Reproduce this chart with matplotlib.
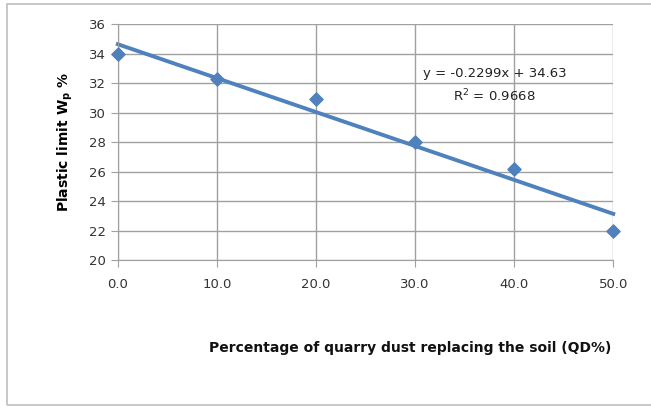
import matplotlib
matplotlib.use("Agg")
import matplotlib.pyplot as plt
import numpy as np

# values
qd_pct = [0, 10, 20, 30, 40, 50]
plastic_limit = [34.0, 32.3, 30.9, 28.0, 26.2, 22.0]
slope = -0.2299
intercept = 34.63
r2 = 0.9668

blue = "#4f81bd"
grid = "#a0a0a0"

fig = plt.figure(figsize=(6.51, 4.07), dpi=100)
ax = fig.add_axes([0.181, 0.361, 0.761, 0.580])

# outer chart frame
fig.patches.append(plt.Rectangle((0.011, 0.005), 1.2, 0.985, transform=fig.transFigure,
                                 fill=False, edgecolor="#bfbfbf", lw=1.2))

xs = np.array([0, 50])
ax.plot(xs, slope * xs + intercept, color=blue, lw=2.8, zorder=2, clip_on=False)
ax.scatter(qd_pct, plastic_limit, marker="D", s=45, color=blue, zorder=3, clip_on=False)

ax.set_xlim(0, 50)
ax.set_ylim(20, 36)
ax.set_xticks(qd_pct)
ax.set_xticklabels(["{:.1f}".format(v) for v in qd_pct])
ax.set_yticks(range(20, 37, 2))
ax.grid(True, color=grid, lw=1)
ax.set_axisbelow(True)
for s in ["top", "right"]:
    ax.spines[s].set_visible(False)
for s in ["left", "bottom"]:
    ax.spines[s].set_color(grid)
ax.tick_params(colors=grid, labelcolor="#333333", labelsize=9.5, length=5, direction="out")
ax.tick_params(axis="x", pad=8)

ax.text(0.76, 0.79, "y = -0.2299x + 34.63", transform=ax.transAxes, ha="center",
        va="center", fontsize=9.5, color="#222222")
ax.text(0.76, 0.695, "R$^2$ = {:.4f}".format(r2), transform=ax.transAxes, ha="center",
        va="center", fontsize=9.5, color="#222222")

ax.set_ylabel("Plastic limit W$_\\mathbf{p}$ %", fontsize=10, fontweight="bold", labelpad=10)
fig.text(0.63, 0.135, "Percentage of quarry dust replacing the soil (QD%)",
         ha="center", fontsize=10, fontweight="bold", color="#111111")

fig.savefig("out.png", dpi=100)
